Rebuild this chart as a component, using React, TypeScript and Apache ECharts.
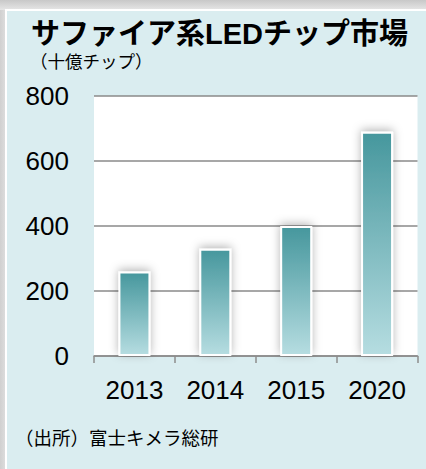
import React, { useEffect, useRef } from "react";
import * as echarts from "echarts";

const categories = ["2013", "2014", "2015", "2020"];
const values = [260, 330, 400, 690];
const yTicks = [0, 200, 400, 600, 800];
const titleText = "サファイア系LEDチップ市場";
const unitText = "（十億チップ）";
const sourceText = "（出所）富士キメラ総研";

const FONT = "'Liberation Sans', Arial, 'Noto Sans CJK JP', sans-serif";
const JP = "'Noto Sans CJK JP', sans-serif";

export default function App() {
  const ref = useRef<HTMLDivElement>(null);
  useEffect(() => {
    if (!ref.current) return;
    const chart = echarts.init(ref.current, null, { renderer: "svg" });
    chart.setOption({
      animation: false,
      backgroundColor: "#daedf0",
      graphic: [
        {
          type: "rect",
          z: -10,
          silent: true,
          shape: { x: 0, y: 0, width: 426, height: 469 },
          style: {
            fill: new echarts.graphic.LinearGradient(0, 0, 1, 0, [
              { offset: 0, color: "#d0d0d0" },
              { offset: 0.02, color: "#e4e4e4" },
              { offset: 1, color: "#e4e4e4" },
            ]),
          },
        },
        {
          type: "rect",
          z: -9,
          silent: true,
          shape: { x: 0, y: 0, width: 426, height: 10 },
          style: {
            fill: new echarts.graphic.LinearGradient(0, 0, 0, 1, [
              { offset: 0, color: "#c8c8c8" },
              { offset: 1, color: "#e6e6e6" },
            ]),
          },
        },
        {
          type: "rect",
          z: -8,
          silent: true,
          shape: { x: 5, y: 9, width: 421, height: 460 },
          style: { fill: "#ffffff" },
        },
        {
          type: "rect",
          z: -7,
          silent: true,
          shape: { x: 7, y: 11, width: 419, height: 458 },
          style: { fill: "#daedf0" },
        },
        {
          type: "text",
          left: 31,
          top: 19,
          style: {
            text: titleText,
            font: `bold 29px ${FONT}`,
            fill: "#000",
          },
        },
        {
          type: "text",
          left: 30,
          top: 52,
          style: {
            text: unitText,
            font: `17.5px ${JP}`,
            fill: "#000",
          },
        },
        {
          type: "text",
          left: 15,
          top: 428,
          style: {
            text: sourceText,
            font: `18.5px ${JP}`,
            fill: "#000",
          },
        },
      ],
      grid: {
        left: 94,
        right: 8.5,
        top: 96,
        bottom: 113,
        show: true,
        backgroundColor: "#ffffff",
        borderWidth: 0,
      },
      xAxis: {
        type: "category",
        data: categories,
        axisLine: { lineStyle: { color: "#8c8c8c", width: 1.5 } },
        axisTick: { show: true, length: 7, lineStyle: { color: "#8c8c8c", width: 1.5 } },
        axisLabel: {
          color: "#000",
          fontSize: 26,
          fontFamily: FONT,
          margin: 21,
        },
      },
      yAxis: {
        type: "value",
        min: yTicks[0],
        max: yTicks[yTicks.length - 1],
        interval: 200,
        axisLine: { show: false },
        axisTick: { show: false },
        splitLine: { lineStyle: { color: "#8a8a8a", width: 1.5 } },
        axisLabel: {
          color: "#000",
          fontSize: 26,
          fontFamily: FONT,
          margin: 25,
        },
      },
      series: [
        {
          type: "bar",
          data: values,
          barWidth: 32,
          itemStyle: {
            color: new echarts.graphic.LinearGradient(0, 0, 0, 1, [
              { offset: 0, color: "#46979d" },
              { offset: 1, color: "#b6dde1" },
            ]),
            borderColor: "#ffffff",
            borderWidth: 2,
            shadowBlur: 10,
            shadowColor: "rgba(0,0,0,0.3)",
            shadowOffsetY: -2,
          },
        },
      ],
    });
    return () => chart.dispose();
  }, []);
  return (
    <div
      ref={ref}
      style={{ position: "absolute", left: 0, top: 0, width: 426, height: 469 }}
    />
  );
}
